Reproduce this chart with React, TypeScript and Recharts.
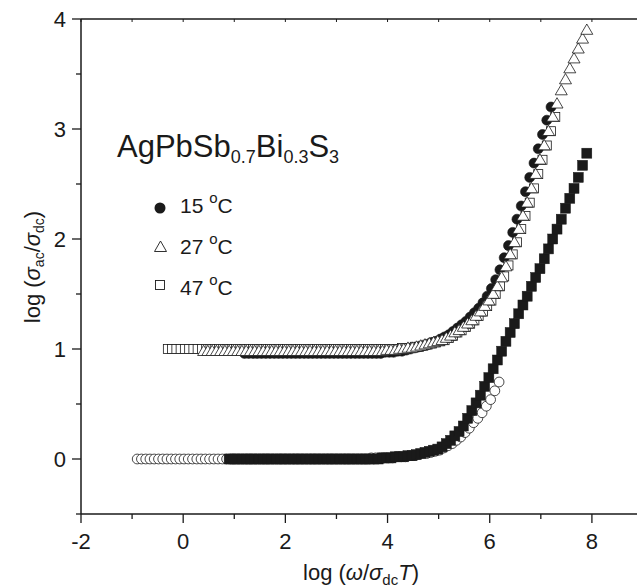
import React from 'react';
import { ScatterChart, Scatter, XAxis, YAxis } from 'recharts';

// frequency grid: 12 points per decade
const STEP = 1 / 12;

// upper set (plotted shifted by +1)
const up15Start = 1.2;
const up15 = [
  0.96, 0.96, 0.96, 0.96, 0.96, 0.96, 0.96, 0.96, 0.96, 0.96, 0.96, 0.96, 0.96, 0.96, 0.96, 0.96,
  0.96, 0.96, 0.96, 0.96, 0.96, 0.96, 0.96, 0.96, 0.96, 0.96, 0.96, 0.96, 0.96, 0.96, 0.96, 0.96,
  0.96, 0.97, 0.97, 0.97, 0.98, 0.98, 0.99, 1.0, 1.01, 1.02, 1.03, 1.04, 1.06, 1.07, 1.09, 1.11,
  1.13, 1.16, 1.19, 1.22, 1.25, 1.29, 1.33, 1.37, 1.42, 1.48, 1.55, 1.63, 1.72, 1.83, 1.94, 2.06,
  2.18, 2.3, 2.43, 2.56, 2.69, 2.82, 2.95, 3.08, 3.2,
];

const up27Start = 0.4;
const up27 = [
  0.98, 0.98, 0.98, 0.98, 0.98, 0.98, 0.98, 0.98, 0.98, 0.98, 0.98, 0.98, 0.98, 0.98, 0.98, 0.98,
  0.98, 0.98, 0.98, 0.98, 0.98, 0.98, 0.98, 0.98, 0.98, 0.98, 0.98, 0.98, 0.98, 0.98, 0.98, 0.98,
  0.98, 0.98, 0.98, 0.98, 0.98, 0.98, 0.98, 0.98, 0.98, 0.98, 0.98, 0.99, 0.99, 0.99, 1.0, 1.0,
  1.01, 1.01, 1.02, 1.03, 1.04, 1.05, 1.06, 1.07, 1.08, 1.1, 1.12, 1.15, 1.17, 1.2, 1.23, 1.26,
  1.3, 1.34, 1.39, 1.44, 1.5, 1.57, 1.65, 1.75, 1.86, 1.97, 2.09, 2.21, 2.33, 2.46, 2.59, 2.72,
  2.85, 2.98, 3.11, 3.23, 3.35, 3.45, 3.55, 3.64, 3.73, 3.82, 3.9,
];

const up47Start = -0.3;
const up47 = [
  1.0, 1.0, 1.0, 1.0, 1.0, 1.0, 1.0, 1.0, 1.0, 1.0, 1.0, 1.0, 1.0, 1.0, 1.0, 1.0,
  1.0, 1.0, 1.0, 1.0, 1.0, 1.0, 1.0, 1.0, 1.0, 1.0, 1.0, 1.0, 1.0, 1.0, 1.0, 1.0,
  1.0, 1.0, 1.0, 1.0, 1.0, 1.0, 1.0, 1.0, 1.0, 1.0, 1.0, 1.0, 1.0, 1.0, 1.0, 1.0,
  1.0, 1.0, 1.0, 1.0, 1.0, 1.0, 1.0, 1.01, 1.01, 1.01, 1.02, 1.02, 1.03, 1.04, 1.05, 1.06,
  1.07, 1.08, 1.1, 1.12, 1.15, 1.17, 1.2, 1.23, 1.26, 1.3, 1.34, 1.39, 1.44, 1.5, 1.57, 1.66,
  1.76, 1.86, 1.97, 2.09, 2.21, 2.33, 2.46, 2.59, 2.72, 2.85, 2.98, 3.11,
];

// lower set
const lowCirclesStart = -0.9;
const lowCircles = [
  0, 0, 0, 0, 0, 0, 0, 0, 0, 0, 0, 0, 0, 0, 0, 0,
  0, 0, 0, 0, 0, 0, 0, 0, 0, 0, 0, 0, 0, 0, 0, 0,
  0, 0, 0, 0, 0, 0, 0, 0, 0, 0, 0, 0, 0, 0, 0, 0,
  0, 0, 0, 0, 0, 0, 0, 0.01, 0.01, 0.01, 0.01, 0.01, 0.01, 0.02, 0.02, 0.02,
  0.03, 0.03, 0.04, 0.05, 0.05, 0.06, 0.07, 0.08, 0.1, 0.12, 0.14, 0.17, 0.2, 0.24, 0.28, 0.33,
  0.37, 0.42, 0.48, 0.54, 0.62, 0.7,
];

const lowSquaresStart = 0.9;
const lowSquares = [
  0, 0, 0, 0, 0, 0, 0, 0, 0, 0, 0, 0, 0, 0, 0, 0,
  0, 0, 0, 0, 0, 0, 0, 0, 0, 0, 0, 0, 0, 0, 0, 0,
  0, 0, 0, 0, 0.01, 0.01, 0.01, 0.02, 0.02, 0.02, 0.03, 0.03, 0.04, 0.05, 0.06, 0.07,
  0.08, 0.09, 0.11, 0.14, 0.17, 0.21, 0.25, 0.3, 0.37, 0.44, 0.51, 0.58, 0.66, 0.74, 0.82, 0.9,
  0.98, 1.07, 1.15, 1.23, 1.32, 1.4, 1.48, 1.57, 1.65, 1.73, 1.82, 1.91, 2.0, 2.09, 2.18, 2.28,
  2.37, 2.46, 2.56, 2.67, 2.78,
];

const xTicks = [-2, -1, 0, 1, 2, 3, 4, 5, 6, 7, 8, 9];
const yTicks = [-0.5, 0, 0.5, 1, 1.5, 2, 2.5, 3, 3.5, 4];

const toPoints = (start: number, ys: number[]) =>
  ys.map((y, i) => ({ x: +(start + i * STEP).toFixed(3), y }));

const FONT = '"Liberation Sans", Arial, Helvetica, sans-serif';
const INK = '#1a1a1a';

const FilledCircle = (p: any) => (
  <circle cx={p.cx} cy={p.cy} r={5} fill={INK} stroke={INK} strokeWidth={0.6} />
);
const OpenCircle = (p: any) => (
  <circle cx={p.cx} cy={p.cy} r={4.9} fill="#fff" stroke={INK} strokeWidth={0.8} />
);
const OpenTriangle = (p: any) => (
  <polygon
    points={`${p.cx},${p.cy - 6} ${p.cx - 6},${p.cy + 4.3} ${p.cx + 6},${p.cy + 4.3}`}
    fill="#fff"
    stroke={INK}
    strokeWidth={0.8}
  />
);
const OpenSquare = (p: any) => (
  <rect x={p.cx - 4.5} y={p.cy - 4.5} width={9} height={9} fill="#fff" stroke={INK} strokeWidth={0.8} />
);
const FilledSquare = (p: any) => (
  <rect x={p.cx - 5} y={p.cy - 5} width={10} height={10} fill={INK} stroke={INK} strokeWidth={0.5} />
);

const BottomTick = (p: any) => {
  const v = p.payload.value;
  const major = v % 2 === 0;
  return (
    <g>
      <line x1={p.x} x2={p.x} y1={p.y} y2={p.y + (major ? 9 : 5)} stroke={INK} strokeWidth={1.3} />
      {major && (
        <text x={p.x} y={p.y + 35} textAnchor="middle" fontSize={22} fontFamily={FONT} fill={INK}>
          {v}
        </text>
      )}
    </g>
  );
};

const TopTick = (p: any) => (
  <line x1={p.x} x2={p.x} y1={p.y} y2={p.y + 3} stroke={INK} strokeWidth={1} />
);

const LeftTick = (p: any) => {
  const v = p.payload.value;
  const major = Number.isInteger(v);
  return (
    <g>
      <line x1={p.x} x2={p.x - (major ? 9 : 5)} y1={p.y} y2={p.y} stroke={INK} strokeWidth={1.3} />
      {major && (
        <text x={p.x - 15} y={p.y + 8} textAnchor="end" fontSize={22} fontFamily={FONT} fill={INK}>
          {v}
        </text>
      )}
    </g>
  );
};

const axisLine = { stroke: INK, strokeWidth: 1.5 };

export default function App() {
  return (
    <div style={{ position: 'absolute', left: 0, top: 0, width: 637, height: 587, overflow: 'hidden', background: '#fff' }}>
      <ScatterChart width={660} height={587} margin={{ top: 0, right: 17, bottom: 0, left: 0 }}>
        <XAxis
          xAxisId="top"
          orientation="top"
          type="number"
          dataKey="x"
          domain={[-2, 9]}
          ticks={xTicks}
          interval={0}
          height={19}
          tickSize={0}
          tickMargin={0}
          tickLine={false}
          tick={<TopTick />}
          axisLine={axisLine}
          allowDataOverflow
        />
        <XAxis
          type="number"
          dataKey="x"
          domain={[-2, 9]}
          ticks={xTicks}
          interval={0}
          height={73}
          tickSize={0}
          tickMargin={0}
          tickLine={false}
          tick={<BottomTick />}
          axisLine={axisLine}
          allowDataOverflow
        />
        <YAxis
          type="number"
          dataKey="y"
          domain={[-0.5, 4]}
          ticks={yTicks}
          interval={0}
          width={81}
          tickSize={0}
          tickMargin={0}
          tickLine={false}
          tick={<LeftTick />}
          axisLine={axisLine}
          allowDataOverflow
        />
        <Scatter data={toPoints(up15Start, up15)} shape={FilledCircle} isAnimationActive={false} />
        <Scatter data={toPoints(up47Start, up47)} shape={OpenSquare} isAnimationActive={false} />
        <Scatter data={toPoints(up27Start, up27)} shape={OpenTriangle} isAnimationActive={false} />
        <Scatter data={toPoints(lowCirclesStart, lowCircles)} shape={OpenCircle} isAnimationActive={false} />
        <Scatter data={toPoints(lowSquaresStart, lowSquares)} shape={FilledSquare} isAnimationActive={false} />
      </ScatterChart>

      <svg
        width={637}
        height={587}
        style={{ position: 'absolute', left: 0, top: 0, pointerEvents: 'none' }}
        fontFamily={FONT}
        fill={INK}
      >
        <text x={117} y={157} fontSize={31}>
          AgPbSb
          <tspan fontSize={18} dy={5.5}>0.7</tspan>
          <tspan dy={-5.5}>Bi</tspan>
          <tspan fontSize={18} dy={5.5}>0.3</tspan>
          <tspan dy={-5.5}>S</tspan>
          <tspan fontSize={18} dy={5.5}>3</tspan>
        </text>

        <circle cx={160} cy={208} r={5.5} fill={INK} />
        <text x={180} y={213} fontSize={21}>
          15 <tspan fontSize={15} dy={-10}>o</tspan>
          <tspan dy={10}>C</tspan>
        </text>

        <polygon points="160.5,241 154.5,251.5 166.5,251.5" fill="#fff" stroke={INK} strokeWidth={0.9} />
        <text x={180} y={254} fontSize={21}>
          27 <tspan fontSize={15} dy={-10}>o</tspan>
          <tspan dy={10}>C</tspan>
        </text>

        <rect x={155.5} y={280.5} width={9} height={9} fill="#fff" stroke={INK} strokeWidth={0.9} />
        <text x={180} y={295} fontSize={21}>
          47 <tspan fontSize={15} dy={-10}>o</tspan>
          <tspan dy={10}>C</tspan>
        </text>

        <text x={361} y={580} textAnchor="middle" fontSize={22}>
          log (<tspan fontStyle="italic">ω</tspan>/<tspan fontStyle="italic">σ</tspan>
          <tspan fontSize={15} dy={5}>dc</tspan>
          <tspan dy={-5} fontStyle="italic">T</tspan>)
        </text>

        <text transform="translate(40,267) rotate(-90)" textAnchor="middle" fontSize={22}>
          log (<tspan fontStyle="italic">σ</tspan>
          <tspan fontSize={14} dy={4}>ac</tspan>
          <tspan dy={-4}>/</tspan>
          <tspan fontStyle="italic">σ</tspan>
          <tspan fontSize={14} dy={4}>dc</tspan>
          <tspan dy={-4}>)</tspan>
        </text>
      </svg>
    </div>
  );
}
